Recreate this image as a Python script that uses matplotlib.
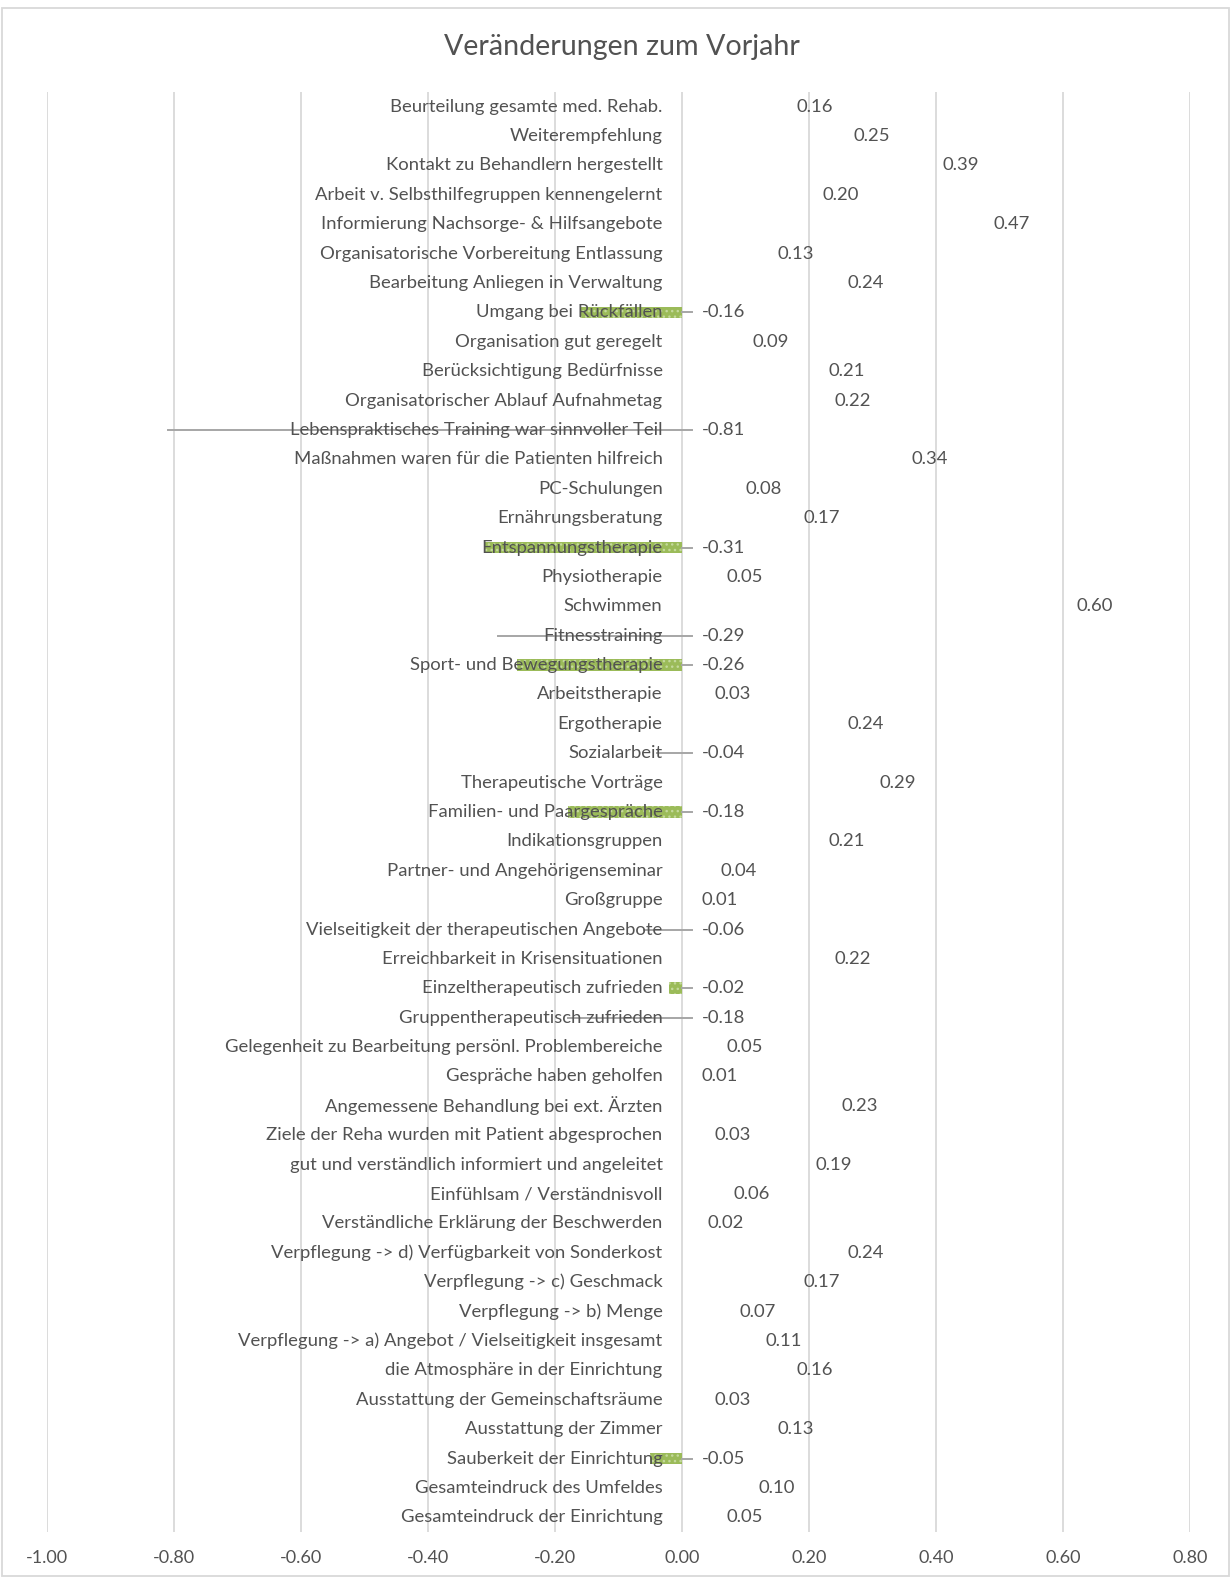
import matplotlib
matplotlib.use("Agg")
import matplotlib.pyplot as plt
from matplotlib.patches import Rectangle

plt.rcParams['font.family'] = ['Lato', 'DejaVu Sans']
plt.rcParams['hatch.linewidth'] = 1.0

categories = [
    "Beurteilung gesamte med. Rehab.",
    "Weiterempfehlung",
    "Kontakt zu Behandlern hergestellt",
    "Arbeit v. Selbsthilfegruppen kennengelernt",
    "Informierung Nachsorge- & Hilfsangebote",
    "Organisatorische Vorbereitung Entlassung",
    "Bearbeitung Anliegen in Verwaltung",
    "Umgang bei Rückfällen",
    "Organisation gut geregelt",
    "Berücksichtigung Bedürfnisse",
    "Organisatorischer Ablauf Aufnahmetag",
    "Lebenspraktisches Training war sinnvoller Teil",
    "Maßnahmen waren für die Patienten hilfreich",
    "PC-Schulungen",
    "Ernährungsberatung",
    "Entspannungstherapie",
    "Physiotherapie",
    "Schwimmen",
    "Fitnesstraining",
    "Sport- und Bewegungstherapie",
    "Arbeitstherapie",
    "Ergotherapie",
    "Sozialarbeit",
    "Therapeutische Vorträge",
    "Familien- und Paargespräche",
    "Indikationsgruppen",
    "Partner- und Angehörigenseminar",
    "Großgruppe",
    "Vielseitigkeit der therapeutischen Angebote",
    "Erreichbarkeit in Krisensituationen",
    "Einzeltherapeutisch zufrieden",
    "Gruppentherapeutisch zufrieden",
    "Gelegenheit zu Bearbeitung persönl. Problembereiche",
    "Gespräche haben geholfen",
    "Angemessene Behandlung bei ext. Ärzten",
    "Ziele der Reha wurden mit Patient abgesprochen",
    "gut und verständlich informiert und angeleitet",
    "Einfühlsam / Verständnisvoll",
    "Verständliche Erklärung der Beschwerden",
    "Verpflegung -> d) Verfügbarkeit von Sonderkost",
    "Verpflegung -> c) Geschmack",
    "Verpflegung -> b) Menge",
    "Verpflegung -> a) Angebot / Vielseitigkeit insgesamt",
    "die Atmosphäre in der Einrichtung",
    "Ausstattung der Gemeinschaftsräume",
    "Ausstattung der Zimmer",
    "Sauberkeit der Einrichtung",
    "Gesamteindruck des Umfeldes",
    "Gesamteindruck der Einrichtung",
]

changes = [
    0.16, 0.25, 0.39, 0.20, 0.47, 0.13, 0.24, -0.16, 0.09, 0.21,
    0.22, -0.81, 0.34, 0.08, 0.17, -0.31, 0.05, 0.60, -0.29, -0.26,
    0.03, 0.24, -0.04, 0.29, -0.18, 0.21, 0.04, 0.01, -0.06, 0.22,
    -0.02, -0.18, 0.05, 0.01, 0.23, 0.03, 0.19, 0.06, 0.02, 0.24,
    0.17, 0.07, 0.11, 0.16, 0.03, 0.13, -0.05, 0.10, 0.05,
]

# Negative rows shown as filled green bars (the rest of the negatives are outline-only)
filled_negative = {
    "Umgang bei Rückfällen",
    "Entspannungstherapie",
    "Sport- und Bewegungstherapie",
    "Familien- und Paargespräche",
    "Einzeltherapeutisch zufrieden",
    "Sauberkeit der Einrichtung",
}

x_ticks = [-1.0, -0.8, -0.6, -0.4, -0.2, 0.0, 0.2, 0.4, 0.6, 0.8]

TEXT = "#525252"
GRID = "#d9d9d9"
GREEN = "#9bbb59"
DOTS = "#c4d99c"
LINE = "#a6a6a6"

W, H = 1231, 1578
fig = plt.figure(figsize=(W / 100, H / 100), dpi=100)
fig.patch.set_facecolor("white")

# chart border
fig.add_artist(Rectangle((2 / W, 2 / H), 1227 / W, 1568 / H,
                         transform=fig.transFigure, fill=False,
                         edgecolor=GRID, linewidth=1.3))

ax = fig.add_axes([47 / W, 1 - 1532 / H, 1143 / W, 1440 / H])
ax.set_xlim(-1.0, 0.8)
n = len(categories)
ax.set_ylim(n - 0.5, -0.5)
for s in ax.spines.values():
    s.set_visible(False)
ax.set_yticks([])
ax.set_xticks(x_ticks)
ax.set_xticklabels([f"{t:.2f}" for t in x_ticks], fontsize=13, color=TEXT)
ax.tick_params(axis="x", length=0, pad=13)
for t in x_ticks:
    ax.axvline(t, color=GRID, linewidth=1.3, zorder=0)

leader_end = 0.016
for i, (cat, v) in enumerate(zip(categories, changes)):
    if v < 0:
        if cat in filled_negative:
            ax.barh(i, v, height=0.4, color=GREEN, edgecolor="none", zorder=1)
            ax.barh(i, v, height=0.4, fill=False, hatch="...",
                    edgecolor=DOTS, linewidth=0, zorder=1.1)
            ax.plot([0, leader_end], [i, i], color=LINE, lw=1.4, zorder=1.5)
        else:
            ax.plot([v, leader_end], [i, i], color=LINE, lw=1.4, zorder=1.5)
        ax.annotate(f"{v:.2f}", (0.0, i), xytext=(14, 0),
                    textcoords="offset points", ha="left", va="center",
                    fontsize=13.3, color=TEXT)
    else:
        # positive bars have no fill
        ax.barh(i, v, height=0.4, fill=False, edgecolor="none", zorder=0.5)
        ax.annotate(f"{v:.2f}", (v, i), xytext=(9.5, 0),
                    textcoords="offset points", ha="left", va="center",
                    fontsize=13.3, color=TEXT)
    ax.annotate(cat, (0.0, i), xytext=(-14, 0), textcoords="offset points",
                ha="right", va="center", fontsize=13.3, color=TEXT, zorder=3)

fig.text(622 / W, 1 - 47 / H, "Veränderungen zum Vorjahr",
         ha="center", va="center", fontsize=20.6, color=TEXT)

fig.savefig("out.png", dpi=100)
